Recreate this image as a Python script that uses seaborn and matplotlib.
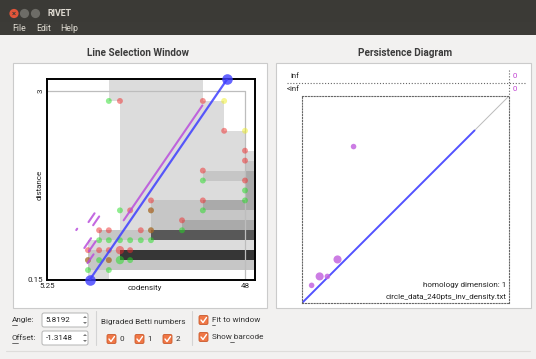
import numpy as np
import pandas as pd
import matplotlib
matplotlib.use("Agg")
import matplotlib.pyplot as plt
import matplotlib.transforms as mtransforms
from matplotlib.patches import Rectangle, FancyBboxPatch, Circle, Polygon
from matplotlib.colors import ListedColormap, BoundaryNorm
import seaborn as sns

# ---------------------------------------------------------------- data
# bounding box of the bifiltration
x_lo, x_hi = 5.25, 48.0
y_lo, y_hi = 0.15, 3.0

# grades at which the Hilbert function changes
codensity_grades = [14.1, 16.5, 18.6, 21.0, 23.2, 25.5, 27.7, 34.4, 38.9, 43.5, 48.0]
distance_grades = [0.30, 0.45, 0.60, 0.75, 0.90, 1.05, 1.20, 1.35, 1.50,
                   1.65, 1.80, 1.95, 2.10, 2.40, 2.85]

# dimension of H1 on each cell, bottom row first
hilbert_dims = [
    [0, 1, 1, 0, 0, 0, 0, 0, 0, 0, 0, 0],
    [0, 2, 2, 2, 2, 2, 2, 2, 2, 2, 2, 2],
    [0, 2, 2, 2, 6, 6, 6, 6, 6, 6, 6, 6],
    [0, 1, 1, 1, 1, 1, 1, 1, 1, 1, 1, 1],
    [0, 0, 2, 2, 2, 2, 2, 5, 5, 5, 5, 5],
    [0, 0, 0, 0, 1, 1, 1, 2, 3, 3, 3, 3],
    [0, 0, 0, 0, 1, 1, 1, 2, 2, 2, 2, 2],
    [0, 0, 0, 0, 1, 1, 1, 2, 2, 3, 3, 3],
    [0, 0, 0, 0, 1, 1, 1, 1, 1, 1, 1, 3],
    [0, 0, 0, 0, 1, 1, 1, 1, 1, 1, 1, 3],
    [0, 0, 0, 0, 1, 1, 1, 1, 1, 2, 2, 3],
    [0, 0, 0, 0, 1, 1, 1, 1, 1, 1, 1, 2],
    [0, 0, 0, 0, 1, 1, 1, 1, 1, 1, 1, 1],
    [0, 0, 0, 0, 1, 1, 1, 1, 1, 1, 1, 0],
    [0, 0, 0, 0, 1, 1, 1, 1, 1, 1, 0, 0],
    [0, 0, 0, 1, 1, 1, 1, 1, 1, 0, 0, 0],
]

# bigraded Betti numbers xi_0 (green), xi_1 (red), xi_2 (yellow)
xi0_codensity = [18.6, 38.9, 48.0, 48.0, 21.0, 38.9, 27.7, 27.7, 34.4,
                 16.5, 18.6, 21.0, 23.2, 25.5, 27.7,
                 14.1, 16.5, 18.6, 21.0, 23.2, 14.1, 18.6]
xi0_distance = [2.85, 1.65, 1.50, 1.35, 1.20, 1.20, 1.20, 0.90, 0.90,
                0.75, 0.75, 0.75, 0.75, 0.75, 0.75,
                0.45, 0.45, 0.45, 0.45, 0.45, 0.30, 0.30]
xi0_mult = [1, 1, 1, 1, 1, 1, 1, 1, 1,
            1, 1, 1, 1, 1, 1,
            1, 1, 1, 2, 1, 1, 1]

xi1_codensity = [21.0, 38.9, 43.5, 48.0, 48.0, 38.9, 48.0, 38.9, 27.7,
                 23.2, 27.7, 34.4, 16.5, 18.6, 25.5, 27.7,
                 14.1, 16.5, 18.6, 21.0, 23.2, 14.1, 18.6]
xi1_distance = [2.85, 2.85, 2.40, 2.10, 1.95, 1.80, 1.65, 1.35, 1.35,
                1.20, 1.20, 1.05, 0.90, 0.90, 0.90, 0.90,
                0.60, 0.60, 0.60, 0.60, 0.60, 0.45, 0.45]
xi1_mult = [1, 1, 1, 1, 1, 1, 1, 1, 1,
            1, 1, 1, 1, 1, 1, 1,
            1, 1, 1, 2, 1, 1, 1]

xi2_codensity = [43.5, 48.0]
xi2_distance = [2.85, 2.40]
xi2_mult = [1, 1]

# selected line
angle_deg = 5.8192
offset = -1.3148

# barcode along the line (births / deaths in codensity), with multiplicity
bar_birth = [22.8, 16.0, 17.3, 20.2, 18.55]
bar_death = [39.8, 17.3, 18.75, 21.5, 18.75]
bar_mult = [1, 1, 2, 2, 1]

homology_dim = 1
file_name = "circle_data_240pts_inv_density.txt"

# ---------------------------------------------------------------- style
sns.set_style("white")
plt.rcParams["font.family"] = ["Roboto", "DejaVu Sans"]

W, H, DPI = 536, 359, 100
WINDOW_BG = "#f2f1f0"
TEXT = "#3c3c3c"
HILBERT_GRAYS = ["#ffffff", "#dcdcdc", "#c6c6c6", "#aaaaaa",
                 "#8c8c8c", "#585858", "#363636"]
GREEN, RED, YELLOW = "#22dd22", "#ee2a2a", "#eeee22"
BLUE = "#3f3fff"
PURPLE = "#b94fdc"
ORANGE = "#f07746"
DOTTED = (0, (1.0, 1.6))

fig = plt.figure(figsize=(W / DPI, H / DPI), dpi=DPI)
fig.patch.set_facecolor(WINDOW_BG)


def px_box(x0, y0, x1, y1):
    return [x0 / W, 1 - y1 / H, (x1 - x0) / W, (y1 - y0) / H]


# window chrome drawn in pixel coordinates
bg = fig.add_axes([0, 0, 1, 1])
bg.set_xlim(0, W)
bg.set_ylim(H, 0)
bg.axis("off")

bg.add_patch(Rectangle((0, 0), W, 22, color="#3b3a36", lw=0))
bg.add_patch(Rectangle((0, 22), W, 13, color="#3c3b37", lw=0))
bg.add_patch(Circle((14, 13.5), 4.6, color="#e0553a", lw=0))
bg.text(14, 13.6, "×", ha="center", va="center", fontsize=5.5, color="#3b3a36",
        fontweight="bold")
bg.add_patch(Circle((24.5, 13.5), 4.6, color="#6d6c67", lw=0))
bg.add_patch(Circle((35.5, 13.5), 4.6, color="#6d6c67", lw=0))
bg.text(47, 13.5, "RIVET", ha="left", va="center", fontsize=6.4,
        fontweight="bold", color="#dfdbd2")
for label, xpos in [("File", 12), ("Edit", 36), ("Help", 60)]:
    bg.text(xpos, 28.5, label, ha="left", va="center", fontsize=6.3,
            color="#dfdbd2")

bg.text(138, 53.5, "Line Selection Window", ha="center", va="center",
        fontsize=7.2, fontweight="bold", color=TEXT)
bg.text(405, 53.5, "Persistence Diagram", ha="center", va="center",
        fontsize=7.2, fontweight="bold", color=TEXT)

for x0, x1 in [(13, 267), (276, 531)]:
    bg.add_patch(Rectangle((x0, 63), x1 - x0, 245, facecolor="white",
                           edgecolor="#cbcbcb", lw=0.8))

# ---------------------------------------------------------------- line selection window
ax = fig.add_axes(px_box(47, 79, 255, 280))
px_per_x = 198 / (x_hi - x_lo)
px_per_y = 189 / (y_hi - y_lo)
x_right = x_lo + 208 / px_per_x
y_top = y_lo + 201 / px_per_y
ax.set_xlim(x_lo, x_right)
ax.set_ylim(y_lo, y_top)
ax.set_facecolor("white")

x_edges = [x_lo] + codensity_grades + [x_right]
y_edges = [y_lo] + distance_grades + [y_top]
cmap = ListedColormap(HILBERT_GRAYS)
norm = BoundaryNorm(np.arange(-0.5, len(HILBERT_GRAYS) + 0.5, 1), len(HILBERT_GRAYS))
ax.pcolormesh(x_edges, y_edges, np.array(hilbert_dims), cmap=cmap, norm=norm,
              shading="flat", antialiased=False, linewidth=0, zorder=0)

ax.plot([x_lo, x_hi], [y_hi, y_hi], color="#bdbdbd", lw=0.9, zorder=1)
ax.plot([x_hi, x_hi], [y_lo, y_hi], color="#bdbdbd", lw=0.9, zorder=1)

betti = pd.concat([
    pd.DataFrame({"codensity": xi0_codensity, "distance": xi0_distance,
                  "mult": xi0_mult, "kind": "xi0"}),
    pd.DataFrame({"codensity": xi1_codensity, "distance": xi1_distance,
                  "mult": xi1_mult, "kind": "xi1"}),
    pd.DataFrame({"codensity": xi2_codensity, "distance": xi2_distance,
                  "mult": xi2_mult, "kind": "xi2"}),
], ignore_index=True)
sns.scatterplot(data=betti, x="codensity", y="distance", hue="kind",
                palette={"xi0": GREEN, "xi1": RED, "xi2": YELLOW},
                size="mult", sizes=(18, 36), size_norm=(1, 2),
                alpha=0.5, linewidth=0, legend=False, ax=ax, zorder=3)

# the selected line
theta = np.radians(angle_deg)
slope = np.tan(theta)
intercept = offset / np.cos(theta)
x_start = (y_lo - intercept) / slope
x_end = (y_top - intercept) / slope
ax.plot([x_start, x_end], [y_lo, y_top], color=BLUE, lw=1.6, alpha=0.85,
        zorder=5, solid_capstyle="butt")
ends = pd.DataFrame({"codensity": [x_start, x_end], "distance": [y_lo, y_top]})
sns.scatterplot(data=ends, x="codensity", y="distance", color=BLUE, s=58,
                alpha=0.8, linewidth=0, legend=False, ax=ax, zorder=6,
                clip_on=False)

# barcode drawn alongside the line, stacked away from it
p = ax.transData.transform([(x_start, y_lo), (x_end, y_top)])
d = p[1] - p[0]
d = d / np.hypot(*d)
normal = np.array([-d[1], d[0]])
level = 0
for b, dth, m in zip(bar_birth, bar_death, bar_mult):
    for _ in range(m):
        level += 1
        shift = normal * level * 5.6
        tr = mtransforms.offset_copy(ax.transData, fig=fig, x=shift[0],
                                     y=shift[1], units="dots")
        xs = np.array([b, dth])
        ax.plot(xs, slope * xs + intercept, color=PURPLE, lw=1.5, alpha=0.85,
                transform=tr, zorder=4, clip_on=False)

for s in ax.spines.values():
    s.set_color("black")
    s.set_linewidth(1.4)
ax.set_xticks([x_lo, x_hi])
ax.set_xticklabels(["5.25", "48"])
ax.set_yticks([y_lo, y_hi])
ax.set_yticklabels(["0.15", "3"])
ax.tick_params(length=0, labelsize=5.8, colors="#222222", pad=2.5)
ylabels = ax.get_yticklabels()
ylabels[1].set_rotation(90)
ylabels[1].set_va("center")
ax.set_xlabel("codensity", fontsize=5.8, color="#222222")
ax.xaxis.set_label_coords(0.47, -0.04)
ax.xaxis.label.set_va("center")
ax.set_ylabel("distance", fontsize=5.8, color="#222222")
ax.yaxis.set_label_coords(-0.034, 0.473)
ax.yaxis.label.set_va("center")

# ---------------------------------------------------------------- persistence diagram
pd_ax = fig.add_axes(px_box(302, 96, 509, 303))
pd_ax.set_xlim(x_start, x_hi)
pd_ax.set_ylim(x_start, x_hi)
pd_ax.set_facecolor("none")
pd_ax.set_xticks([])
pd_ax.set_yticks([])
for s in pd_ax.spines.values():
    s.set_linestyle(DOTTED)
    s.set_color("#666666")
    s.set_linewidth(0.8)

x_exit = (y_hi - intercept) / slope
pd_ax.plot([x_exit, x_hi], [x_exit, x_hi], color="#bbbbbb", lw=0.7)
pd_ax.plot([x_start, x_exit], [x_start, x_exit], color=BLUE, lw=1.4, alpha=0.9)

diagram = pd.DataFrame({"birth": bar_birth, "death": bar_death, "mult": bar_mult})
sns.scatterplot(data=diagram, x="birth", y="death", size="mult",
                sizes=(16, 34), size_norm=(1, 2), color="#c466e0", alpha=0.85,
                linewidth=0, legend=False, ax=pd_ax, zorder=4)
pd_ax.set_xlabel("")
pd_ax.set_ylabel("")
pd_ax.text(0.986, 0.087, f"homology dimension: {homology_dim}",
           transform=pd_ax.transAxes, ha="right", va="center",
           fontsize=5.8, color="#222222")
pd_ax.text(0.986, 0.029, file_name, transform=pd_ax.transAxes, ha="right",
           va="center", fontsize=5.8, color="#222222")

bg.text(299.5, 76, "inf", ha="right", va="center", fontsize=5.6, color="#222222")
bg.text(299.5, 89, "<inf", ha="right", va="center", fontsize=5.6, color="#222222")
bg.plot([287, 525], [82.5, 82.5], color="#666666", lw=0.8, ls=DOTTED)
bg.plot([509, 509], [70, 96], color="#666666", lw=0.8, ls=DOTTED)
bg.text(512.5, 76, "0", ha="left", va="center", fontsize=5.6, color="#c040d0")
bg.text(512.5, 89, "0", ha="left", va="center", fontsize=5.6, color="#c040d0")

# ---------------------------------------------------------------- controls
def spin_box(y0, value):
    bg.add_patch(FancyBboxPatch((42, y0), 46, 14,
                                boxstyle="round,pad=0,rounding_size=2",
                                facecolor="white", edgecolor="#b4b4b4", lw=0.7))
    bg.text(45.5, y0 + 7.2, value, ha="left", va="center", fontsize=5.8,
            color="#222222")
    bg.add_patch(Polygon([(83, y0 + 5), (85, y0 + 3), (87, y0 + 5)],
                         closed=True, color="#777777", lw=0))
    bg.add_patch(Polygon([(83, y0 + 9), (85, y0 + 11), (87, y0 + 9)],
                         closed=True, color="#777777", lw=0))


def check_box(x0, yc, label):
    bg.add_patch(FancyBboxPatch((x0, yc - 4.5), 9, 9,
                                boxstyle="round,pad=0,rounding_size=1.5",
                                facecolor=ORANGE, edgecolor="#c9592b", lw=0.6))
    bg.plot([x0 + 2, x0 + 4, x0 + 7.5], [yc, yc + 2.5, yc - 2.5],
            color="white", lw=1.0, solid_capstyle="round")
    bg.text(x0 + 12.5, yc, label, ha="left", va="center", fontsize=5.9,
            color="#333333")


bg.text(12, 320, "Angle:", ha="left", va="center", fontsize=5.9, color="#333333")
bg.plot([12, 17], [324.5, 324.5], color="#333333", lw=0.5)
bg.text(12, 338, "Offset:", ha="left", va="center", fontsize=5.9, color="#333333")
bg.plot([12, 17.5], [342.5, 342.5], color="#333333", lw=0.5)
spin_box(313, f"{angle_deg:.4f}")
spin_box(331, f"{offset:.4f}")

bg.plot([96, 96], [311, 345], color="#d4d4d4", lw=0.8)
bg.text(101, 322, "Bigraded Betti numbers", ha="left", va="center",
        fontsize=5.9, color="#333333")
for xpos, lab in [(107, "0"), (135, "1"), (163, "2")]:
    check_box(xpos, 339, lab)

bg.plot([192, 192], [311, 345], color="#d4d4d4", lw=0.8)
check_box(199, 320, "Fit to window")
bg.plot([211.5, 215], [324.5, 324.5], color="#333333", lw=0.5)
check_box(199, 337, "Show barcode")
bg.plot([230, 234], [341.5, 341.5], color="#333333", lw=0.5)

bg.plot([6, 530], [350.5, 350.5], color="#dedddb", lw=0.8)

fig.savefig("out.png", dpi=DPI, facecolor=WINDOW_BG)
